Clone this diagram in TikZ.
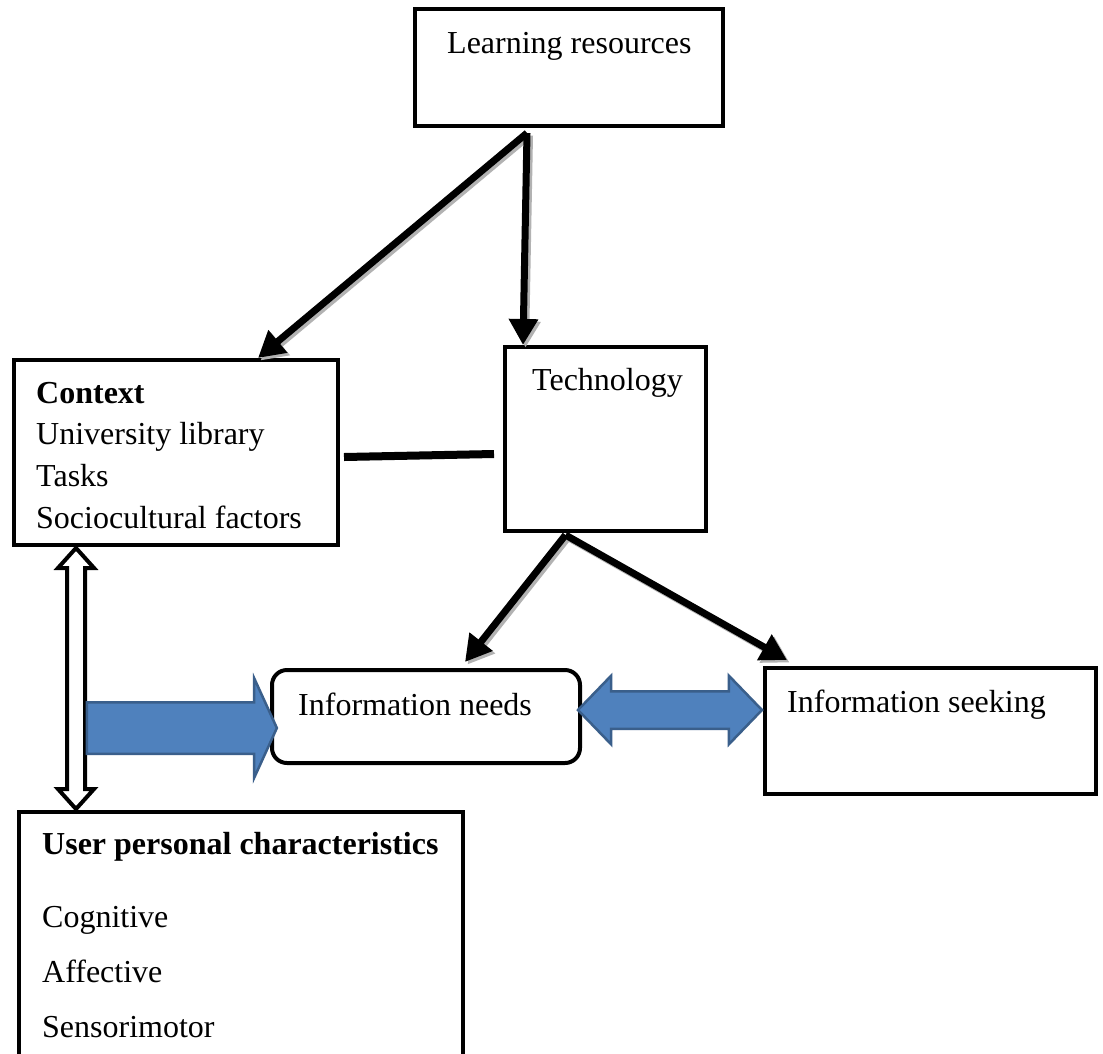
\documentclass[tikz,border=0pt]{standalone}
\usepackage{fontspec}
\setmainfont{Liberation Serif}
\usetikzlibrary{arrows.meta,shapes.arrows,calc}

\definecolor{arrowfill}{HTML}{4F81BD}
\definecolor{arrowline}{HTML}{3A5F8B}

\tikzset{
  box/.style={draw, line width=4pt, inner sep=0pt},
  txt/.style={anchor=base west, inner sep=0pt, font=\fontsize{32}{38}\selectfont},
  link/.style={line width=7pt, -{Triangle[length=26pt,width=28pt]}},
  linkshadow/.style={link, draw=black!30, transform canvas={shift={(2.5pt,-2.5pt)}}},
  bluearrow/.style={fill=arrowfill, draw=arrowline, line width=2.5pt,
                    inner xsep=0pt, outer sep=0pt},
  whitearrow/.style={double arrow, fill=white, draw=black, line width=4pt,
                     inner xsep=0pt, outer sep=0pt}
}

\begin{document}
\begin{tikzpicture}[x=1pt, y=-1pt]
  \useasboundingbox[fill=white] (0,0) rectangle (1103,1053);
  \clip (0,0) rectangle (1103,1053);

  % boxes
  \node[box, minimum width=308pt, minimum height=117pt] (learn) at (569,67.5) {};
  \node[box, minimum width=324pt, minimum height=185pt] (ctx) at (176,452.5) {};
  \node[box, minimum width=201pt, minimum height=184pt] (tech) at (605.5,439) {};
  \node[box, rounded corners=15pt, minimum width=308pt, minimum height=93pt] (needs) at (426,716.5) {};
  \node[box, minimum width=331pt, minimum height=126pt] (seek) at (930.5,731) {};
  \node[box, minimum width=444pt, minimum height=260pt] (user) at (241,942) {};

  % texts
  \node[txt] (learntxt) at (447,53) {Learning resources};
  \node[txt, font=\fontsize{32}{38}\selectfont\bfseries] (ctxtxt) at (36,403) {Context};
  \foreach \t [count=\k] in {University library, Tasks, Sociocultural factors} {
      \node[txt] (ctx\k) at (36,403+41.7*\k) {\t};
  }
  \node[txt] (techtxt) at (532,390) {Technology};
  \node[txt] (needstxt) at (298,715) {Information needs};
  \node[txt] (seektxt) at (787,712) {Information seeking};
  \node[txt, font=\fontsize{32}{38}\selectfont\bfseries] (usertxt) at (42,854) {User personal characteristics};
  \foreach \t [count=\k] in {Cognitive, Affective, Sensorimotor} {
      \node[txt] (user\k) at (42,872+55*\k) {\t};
  }

  % connectors
  \coordinate (learnfoot) at ([xshift=-42pt,yshift=-5pt]learn.south);
  \coordinate (techfoot) at ([xshift=-40pt,yshift=-2pt]tech.south);
  \coordinate (ctxin) at ([xshift=82pt]ctx.north);
  \coordinate (techin) at ([xshift=-82.5pt]tech.north);
  \coordinate (needsin) at ([xshift=39pt,yshift=6pt]needs.north);
  \coordinate (seekin) at ([xshift=-143.5pt,yshift=6pt]seek.north);
  \foreach \a/\b in {learnfoot/ctxin, learnfoot/techin, techfoot/needsin, techfoot/seekin} {
      \draw[linkshadow] (\a) -- (\b);
      \draw[link] (\a) -- (\b);
  }
  \draw[line width=8pt] ([xshift=4pt,yshift=-4.5pt]ctx.east) -- ([xshift=-9pt,yshift=-15pt]tech.west);

  % block arrows
  \node[whitearrow, rotate=90, inner ysep=7pt, minimum height=261pt,
        double arrow head extend=9pt, double arrow tip angle=84] (ctxuser)
        at ($([xshift=-100pt]ctx.south)!.5!([xshift=-165pt]user.north)$) {};
  \node[bluearrow, single arrow, inner ysep=24.5pt, minimum height=190pt,
        single arrow head extend=24pt, single arrow tip angle=131] (toneeds) at (176,728) {};
  \node[bluearrow, double arrow, inner ysep=17.5pt, minimum height=184pt,
        double arrow head extend=15.5pt, double arrow tip angle=92] (needsseek) at (670,710) {};
\end{tikzpicture}
\end{document}
